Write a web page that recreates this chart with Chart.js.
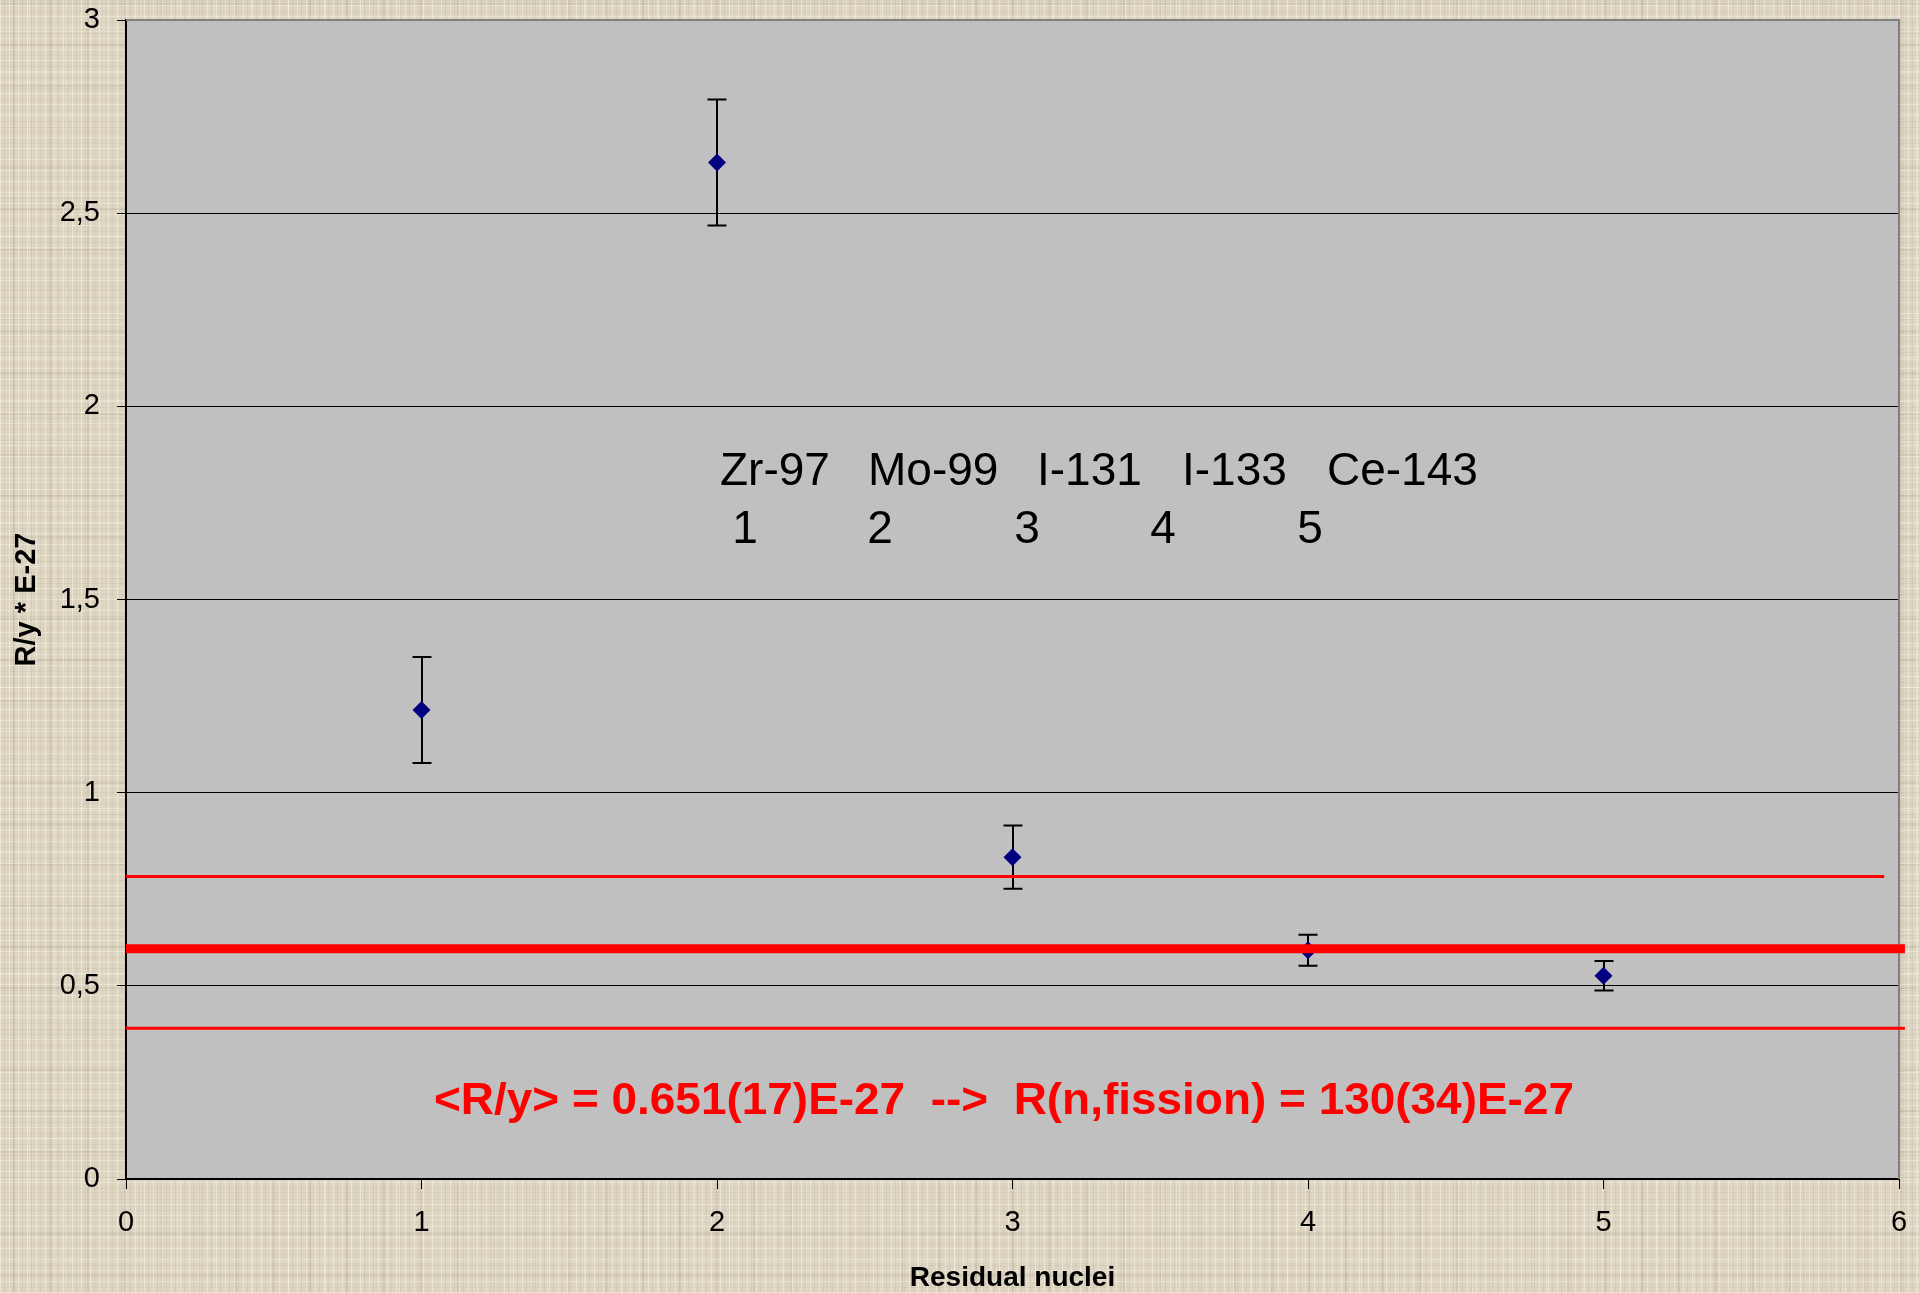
<!DOCTYPE html>
<html><head><meta charset="utf-8">
<script src="https://cdn.jsdelivr.net/npm/chart.js@4/dist/chart.umd.min.js"></script>
<style>
html,body{margin:0;padding:0;}
body{width:1919px;height:1293px;overflow:hidden;background-color:#DDD5C2;
background-image:
 repeating-linear-gradient(90deg, rgba(255,252,240,0.40) 0px 1px, transparent 1px 4px, rgba(120,105,80,0.08) 4px 5px, transparent 5px 9px),
 repeating-linear-gradient(0deg, rgba(255,252,240,0.35) 0px 1px, transparent 1px 5px, rgba(120,105,80,0.08) 5px 6px, transparent 6px 11px),
 repeating-linear-gradient(90deg, transparent 0 13px, rgba(110,95,70,0.10) 13px 15px, transparent 15px 29px, rgba(255,255,245,0.25) 29px 30px, transparent 30px 37px),
 repeating-linear-gradient(0deg, transparent 0 17px, rgba(110,95,70,0.10) 17px 19px, transparent 19px 31px, rgba(255,255,245,0.25) 31px 32px, transparent 32px 41px);}
#wrap{position:relative;width:1919px;height:1293px;}
canvas{display:block;}
</style></head>
<body><div id="wrap"><canvas id="c" width="1919" height="1293"></canvas></div>
<script>
// ---- data ----
const nuclideNumbers = [1, 2, 3, 4, 5];
const ratioValues = [1.214, 2.631, 0.833, 0.592, 0.526];
const ratioErrors = [0.137, 0.163, 0.082, 0.040, 0.038];
const meanValue = 0.596;
const upperBandValue = 0.783;
const lowerBandValue = 0.390;
const meanLineX = [0, 6.02];
const upperLineX = [0, 5.95];
const lowerLineX = [0, 6.02];
const xTickValues = [0, 1, 2, 3, 4, 5, 6];
const yTickValues = [0, 0.5, 1, 1.5, 2, 2.5, 3];
const yTickLabels = ['0', '0,5', '1', '1,5', '2', '2,5', '3'];
const nuclideNames = ['Zr-97', 'Mo-99', 'I-131', 'I-133', 'Ce-143'];
const resultText = '<R/y> = 0.651(17)E-27  -->  R(n,fission) = 130(34)E-27';
const xTitle = 'Residual nuclei';
const yTitle = 'R/y * E-27';

const FONT = "'Liberation Sans', Arial, Helvetica, sans-serif";

const bgPlugin = {
  id: 'plotBg',
  beforeDraw(chart) {
    const {ctx, chartArea: a} = chart;
    ctx.save();
    ctx.fillStyle = '#C0C0C0';
    ctx.fillRect(a.left, a.top, a.right - a.left, a.bottom - a.top);
    ctx.restore();
  }
};

const frameAndBars = {
  id: 'frameAndBars',
  beforeDatasetsDraw(chart) {
    const {ctx, chartArea: a, scales: {x, y}} = chart;
    ctx.save();
    // gray top/right frame
    ctx.strokeStyle = '#808080';
    ctx.lineWidth = 2;
    ctx.beginPath();
    ctx.moveTo(a.left, a.top);
    ctx.lineTo(a.right, a.top);
    ctx.lineTo(a.right, a.bottom);
    ctx.stroke();
    // error bars
    ctx.strokeStyle = '#000';
    ctx.lineWidth = 2;
    nuclideNumbers.forEach((n, i) => {
      const px = Math.round(x.getPixelForValue(n));
      const top = y.getPixelForValue(ratioValues[i] + ratioErrors[i]);
      const bot = y.getPixelForValue(ratioValues[i] - ratioErrors[i]);
      ctx.beginPath();
      ctx.moveTo(px, top); ctx.lineTo(px, bot);
      ctx.moveTo(px - 9.5, top); ctx.lineTo(px + 9.5, top);
      ctx.moveTo(px - 9.5, bot); ctx.lineTo(px + 9.5, bot);
      ctx.stroke();
    });
    // annotation texts
    ctx.fillStyle = '#000';
    ctx.font = '46px ' + FONT;
    ctx.textBaseline = 'alphabetic';
    ctx.textAlign = 'left';
    const wordLeft = [720, 868, 1037, 1182, 1327];
    nuclideNames.forEach((t, i) => ctx.fillText(t, wordLeft[i], 485));
    ctx.textAlign = 'center';
    const digitCenter = [745, 880, 1027, 1163, 1310];
    nuclideNumbers.forEach((n, i) => ctx.fillText(String(n), digitCenter[i], 543));
    // red result text
    ctx.fillStyle = '#FF0000';
    ctx.font = 'bold 45px ' + FONT;
    ctx.save();
    ctx.translate(1004, 1114);
    const w = ctx.measureText(resultText).width;
    ctx.scale(1140 / w, 1);
    ctx.textAlign = 'center';
    ctx.fillText(resultText, 0, 0);
    ctx.restore();
    ctx.restore();
  }
};

new Chart(document.getElementById('c'), {
  type: 'scatter',
  data: {
    datasets: [
      {label: 'mean', type: 'line', showLine: true, data: meanLineX.map(v => ({x: v, y: meanValue})),
       borderColor: '#FF0000', borderWidth: 9, pointRadius: 0, clip: false, order: 0},
      {label: 'upper', type: 'line', showLine: true, data: upperLineX.map(v => ({x: v, y: upperBandValue})),
       borderColor: '#FF0000', borderWidth: 3, pointRadius: 0, clip: false, order: 0},
      {label: 'lower', type: 'line', showLine: true, data: lowerLineX.map(v => ({x: v, y: lowerBandValue})),
       borderColor: '#FF0000', borderWidth: 3, pointRadius: 0, clip: false, order: 0},
      {label: 'R/y', data: nuclideNumbers.map((v, i) => ({x: v, y: ratioValues[i]})),
       pointStyle: 'rectRot', pointRadius: 9, backgroundColor: '#000080', borderColor: '#000080',
       borderWidth: 0, showLine: false, order: 1}
    ]
  },
  options: {
    responsive: false, animation: false, devicePixelRatio: 1,
    layout: {padding: {top: 20, right: 20, left: 0, bottom: 0}},
    plugins: {legend: {display: false}, tooltip: {enabled: false}},
    scales: {
      x: {
        type: 'linear', min: 0, max: 6,
        afterBuildTicks: s => { s.ticks = xTickValues.map(v => ({value: v})); },
        ticks: {color: '#000', font: {family: FONT, size: 29}, padding: 17, maxRotation: 0, autoSkip: false},
        grid: {drawOnChartArea: false, drawTicks: true, tickLength: 10, color: '#000', lineWidth: 1},
        border: {color: '#000', width: 2},
        title: {display: true, text: xTitle, color: '#000', font: {family: FONT, size: 28, weight: 'bold'}, padding: {top: 0, bottom: -2}},
        afterFit: s => { s.height = 114; s.paddingLeft = 0; s.paddingRight = 0; }
      },
      y: {
        type: 'linear', min: 0, max: 3,
        afterBuildTicks: s => { s.ticks = yTickValues.map(v => ({value: v})); },
        ticks: {color: '#000', font: {family: FONT, size: 29}, padding: 17, autoSkip: false,
                callback: (v, i) => yTickLabels[i]},
        grid: {color: '#000', lineWidth: 1, drawTicks: true, tickLength: 9},
        border: {color: '#000', width: 2},
        title: {display: true, text: yTitle, color: '#000', font: {family: FONT, size: 29, weight: 'bold'}, padding: {top: 10, bottom: 0}},
        afterFit: s => { s.width = 126; s.paddingTop = 0; s.paddingBottom = 0; }
      }
    }
  },
  plugins: [bgPlugin, frameAndBars]
});
</script>
</body></html>
